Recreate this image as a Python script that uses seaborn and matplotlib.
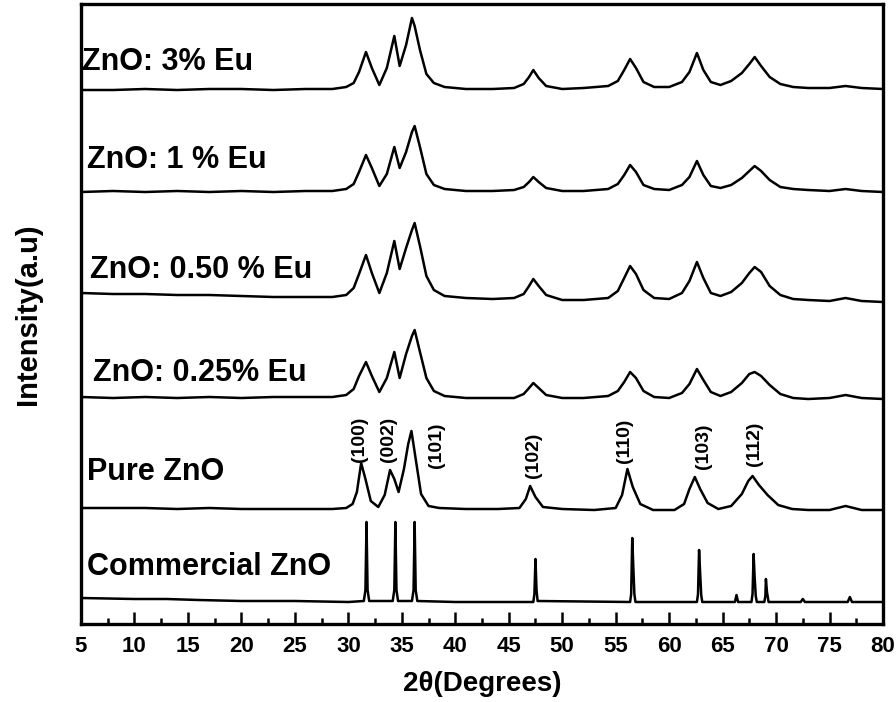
import numpy as np
import pandas as pd
import matplotlib
matplotlib.use("Agg")
import matplotlib.pyplot as plt
import seaborn as sns
from matplotlib.ticker import MultipleLocator

# 2theta grid shared by the Eu doped samples
x_eu = [5, 8, 11, 14, 17, 20, 23, 26, 28.5, 29.8, 30.5, 31.0, 31.65, 32.2, 32.9, 33.6, 34.3, 34.8,
        35.4, 35.95, 36.2, 36.7, 37.3, 38.0, 39.0, 41, 43.5, 45.5, 46.4, 46.9, 47.3, 47.8, 48.5, 50,
        52, 54.3, 55.2, 55.8, 56.35, 56.9, 57.6, 58.6, 60.0, 61.2, 61.9, 62.6, 63.2, 63.9, 64.8, 65.8,
        66.8, 67.5, 68.0, 68.6, 69.4, 70.4, 71.6, 73, 75, 76.5, 78, 80]

eu_3 = [0, 0, 1, 0, 1, 1, 0, 1, 1, 3, 7, 18, 38, 22, 5, 22, 54, 24,
        45, 72, 64, 40, 16, 7, 3, 1, 1, 2, 6, 13, 20, 12, 4, 1,
        2, 4, 9, 20, 31, 22, 8, 3, 3, 8, 18, 37, 20, 8, 5, 9,
        17, 26, 33, 24, 13, 6, 3, 2, 2, 4, 2, 1]
eu_1 = [0, 1, 0, 1, 0, 1, 0, 1, 1, 3, 8, 20, 37, 24, 6, 18, 45, 24,
        40, 60, 66, 45, 18, 7, 3, 1, 1, 2, 5, 10, 15, 10, 4, 1,
        1, 3, 8, 17, 27, 20, 7, 3, 2, 7, 15, 31, 17, 6, 4, 7,
        14, 21, 26, 21, 12, 5, 3, 2, 1, 3, 1, 0]
eu_050 = [5, 4, 4, 3, 3, 2, 1, 1, 1, 3, 10, 24, 43, 25, 5, 25, 57, 29,
          50, 68, 75, 52, 22, 8, 2, 0, -1, 0, 4, 12, 19, 12, 3, -2,
          -2, 0, 7, 20, 32, 24, 8, 0, -1, 5, 17, 36, 20, 5, 2, 6,
          15, 25, 31, 26, 12, 3, -1, -2, -3, 0, -3, -4]
eu_025 = [1, 0, 1, 0, 1, 0, 1, 1, 1, 3, 9, 22, 36, 22, 6, 20, 46, 20,
          44, 62, 68, 46, 20, 7, 2, 0, 0, 0, 4, 10, 15, 10, 3, 0,
          0, 2, 7, 16, 26, 20, 7, 1, 0, 5, 14, 29, 18, 6, 2, 6,
          15, 24, 26, 22, 13, 4, 0, -1, 0, 3, 0, -1]

x_pure = [5, 8, 11, 14, 17, 20, 23, 26, 28.5, 29.8, 30.4, 30.8, 31.2, 31.6, 32.1, 32.8, 33.4, 33.9,
          34.3, 34.7, 35.2, 35.6, 35.9, 36.3, 36.8, 37.5, 38.5, 41, 44, 46.0, 46.6, 47.0, 47.5, 48.2,
          50, 53, 55.0, 55.6, 56.1, 56.6, 57.3, 58.5, 60.5, 61.4, 61.9, 62.4, 62.9, 63.6, 64.6, 65.8,
          66.8, 67.4, 67.8, 68.4, 69.2, 70.2, 71.5, 73, 75, 76.5, 78, 80]
pure = [1, 1, 1, 0, 1, 0, 0, 0, 0, 1, 5, 17, 46, 30, 8, 2, 14, 39,
        30, 17, 40, 65, 78, 50, 15, 3, 1, 0, 0, 1, 10, 23, 12, 2,
        0, -1, 1, 14, 40, 22, 5, -1, -1, 5, 20, 32, 20, 6, 0, 3,
        15, 28, 33, 24, 14, 4, 0, -1, -1, 3, -1, -1]

x_comm = [5, 10, 13, 16, 20, 25, 30, 31.45, 31.6, 31.7, 31.8, 31.95, 34.15, 34.3, 34.4, 34.5, 34.65,
          35.95, 36.1, 36.2, 36.3, 36.45, 40, 47.3, 47.4, 47.5, 47.6, 47.7, 56.35, 56.45, 56.55, 56.65,
          56.75, 56.85, 62.6, 62.7, 62.8, 62.9, 63.0, 63.1, 66.15, 66.3, 66.45, 67.7, 67.8, 67.9, 68.0,
          68.1, 68.2, 68.9, 69.0, 69.05, 69.15, 69.3, 72.3, 72.5, 72.7, 76.7, 76.9, 77.1, 80]
comm = [4, 3, 3, 2, 1, 1, 0, 1, 12, 80, 12, 1, 1, 12, 80, 12, 1,
        1, 12, 80, 12, 1, 0, 0, 8, 43, 12, 1, 0, 8, 64, 35,
        8, 0, 0, 8, 52, 29, 7, 0, 0, 7, 0, 0, 8, 48, 24,
        6, 0, 0, 6, 23, 10, 0, 0, 3, 0, 0, 5, 0, 0]

samples = ["ZnO: 3% Eu", "ZnO: 1 % Eu", "ZnO: 0.50 % Eu", "ZnO: 0.25% Eu", "Pure ZnO", "Commercial ZnO"]
series_x = [x_eu, x_eu, x_eu, x_eu, x_pure, x_comm]
series_y = [eu_3, eu_1, eu_050, eu_025, pure, comm]

hkl = ["(100)", "(002)", "(101)", "(102)", "(110)", "(103)", "(112)"]

# layout (stacking offsets and label anchors), kept apart from the data
offsets = [534, 432, 326, 226, 115, 22]
label_pos = [(5.1, 562), (5.56, 464), (5.84, 354), (6.12, 251), (5.56, 152), (5.56, 57)]
hkl_pos = [(31.09, 185), (33.8, 185), (38.29, 179), (47.27, 169), (55.87, 183), (63.17, 178), (67.94, 180)]

frames = []
for name, xs, ys, off in zip(samples, series_x, series_y, offsets):
    frames.append(pd.DataFrame({"two_theta": xs, "intensity": np.array(ys) + off, "sample": name}))
df = pd.concat(frames, ignore_index=True)

sns.set_style("ticks", {"axes.edgecolor": "black", "text.color": "black",
                        "axes.labelcolor": "black", "xtick.color": "black"})
plt.rcParams["font.family"] = ["Liberation Sans", "DejaVu Sans"]
plt.rcParams["font.weight"] = "bold"

fig = plt.figure(figsize=(8.96, 7.02), dpi=100)
ax = fig.add_axes([81 / 896, 78 / 702, 802 / 896, 620 / 702])

sns.lineplot(data=df, x="two_theta", y="intensity", units="sample", estimator=None,
             sort=False, color="black", lw=1.8, ax=ax)

for name, (lx, ly) in zip(samples, label_pos):
    ax.text(lx, ly, name, fontsize=22, fontweight="bold", color="black", ha="left", va="center")
for lab, (hx, hy) in zip(hkl, hkl_pos):
    ax.text(hx, hy, lab, fontsize=14, fontweight="bold", color="black", rotation=90,
            ha="center", va="center")

ax.set_xlim(5, 80)
ax.set_ylim(0, 620)
ax.xaxis.set_major_locator(MultipleLocator(5))
ax.xaxis.set_minor_locator(MultipleLocator(2.5))
ax.set_yticks([])
ax.tick_params(axis="x", which="major", direction="in", length=8.5, width=1.8, pad=9,
               labelsize=16, colors="black")
ax.tick_params(axis="x", which="minor", direction="in", length=4.3, width=1.8, colors="black")
for lbl in ax.get_xticklabels():
    lbl.set_fontweight("bold")
for sp in ax.spines.values():
    sp.set_linewidth(2.4)
    sp.set_color("black")
    sp.set_visible(True)

ax.set_xlabel("2\u03b8(Degrees)", fontsize=20, fontweight="bold", color="black", labelpad=10)
ax.set_ylabel("Intensity(a.u)", fontsize=21, fontweight="bold", color="black", labelpad=28)
if ax.get_legend() is not None:
    ax.get_legend().remove()

fig.savefig("out.png", dpi=100)
